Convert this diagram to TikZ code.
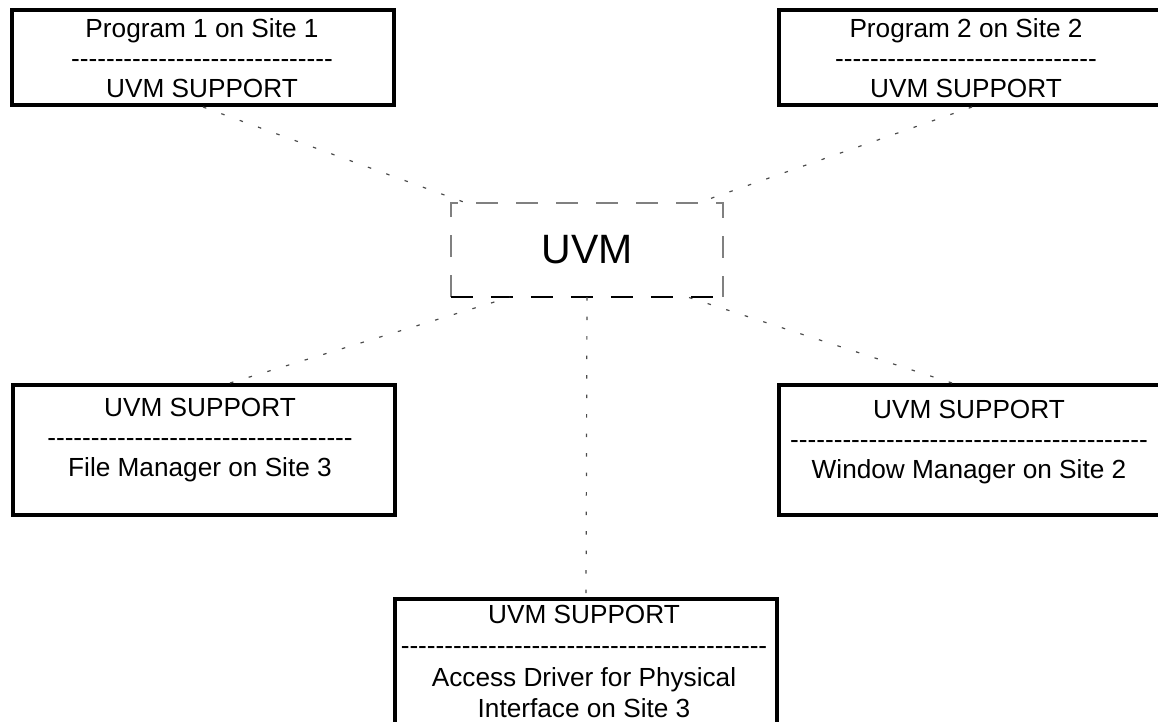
\documentclass[tikz,border=0pt]{standalone}
\usepackage{fontspec}
\setmainfont{Liberation Sans}
% a row of separate hyphens (the kerns keep them from merging into dashes)
\newcommand\hyphenrow[1]{\foreach\k in {1,...,#1}{-\kern0pt}}
\begin{document}
\begin{tikzpicture}[x=1pt,y=-1pt,
  frame/.style={draw=black, line width=4pt, rectangle, inner sep=0pt,
                minimum width=382pt},
  boxtext/.style={align=center, inner sep=0pt, text=black,
                  font=\fontsize{26.2pt}{30pt}\selectfont},
  core/.style={rectangle, inner sep=0pt, minimum width=272pt,
               minimum height=94pt, font=\fontsize{41pt}{46pt}\selectfont},
  coreedge/.style={line width=1.5pt, dash pattern=on 22pt off 18pt},
  link/.style={draw=black!70, line width=1.2pt, dash pattern=on 3.5pt off 16pt}]
\useasboundingbox (0,0) rectangle (1158,722);
\clip (0,0) rectangle (1158,722);

% central UVM box
\node[core] (uvm) at (587,250) {UVM};
\draw[coreedge, draw=black!50] (uvm.south west) -- (uvm.north west)
      -- (uvm.north east) -- (uvm.south east);
\draw[coreedge, draw=black] (uvm.south west) -- (uvm.south east);

% surrounding program boxes
\node[frame, minimum height=95pt]  (p1) at (203,57.5) {};
\node[frame, minimum height=95pt]  (p2) at (970,57.5) {};
\node[frame, minimum height=130pt] (fm) at (204,450) {};
\node[frame, minimum height=130pt] (wm) at (970,450) {};
\node[frame, minimum height=130pt] (ad) at (586,664) {};

\node[boxtext, anchor=north] (p1t) at (202,18)
  {Program 1 on Site 1\\\hyphenrow{30}\\UVM SUPPORT};
\node[boxtext, anchor=north] (p2t) at (966,18)
  {Program 2 on Site 2\\\hyphenrow{30}\\UVM SUPPORT};
\node[boxtext, anchor=north] (fmt) at (200,398)
  {UVM SUPPORT\\\hyphenrow{35}\\File Manager on Site 3};
\node[boxtext, anchor=north] (wmt) at (969,400)
  {UVM SUPPORT\\\hyphenrow{41}\\Window Manager on Site 2};
\node[boxtext, anchor=north, font=\fontsize{26.2pt}{31.5pt}\selectfont] (adt)
  at (584,604.5)
  {UVM SUPPORT\\\hyphenrow{42}\\Access Driver for Physical\\Interface on Site 3};

% connectors
\coordinate (c1) at ([xshift=15pt]uvm.north west);
\coordinate (c2) at ([xshift=-25pt]uvm.north east);
\coordinate (c3) at ([xshift=-77pt]uvm.south);
\coordinate (c4) at ([xshift=101pt]uvm.south);
\coordinate (p2a) at ([xshift=2pt]p2.south);
\coordinate (fma) at ([xshift=26pt]fm.north);
\coordinate (wma) at ([xshift=-18pt]wm.north);
\draw[link] (p1.south) -- (c1);
\draw[link] (p2a) -- (c2);
\draw[link] (fma) -- (c3);
\draw[link] (wma) -- (c4);
\draw[link] (uvm.south) -- (ad.north);
\end{tikzpicture}
\end{document}
